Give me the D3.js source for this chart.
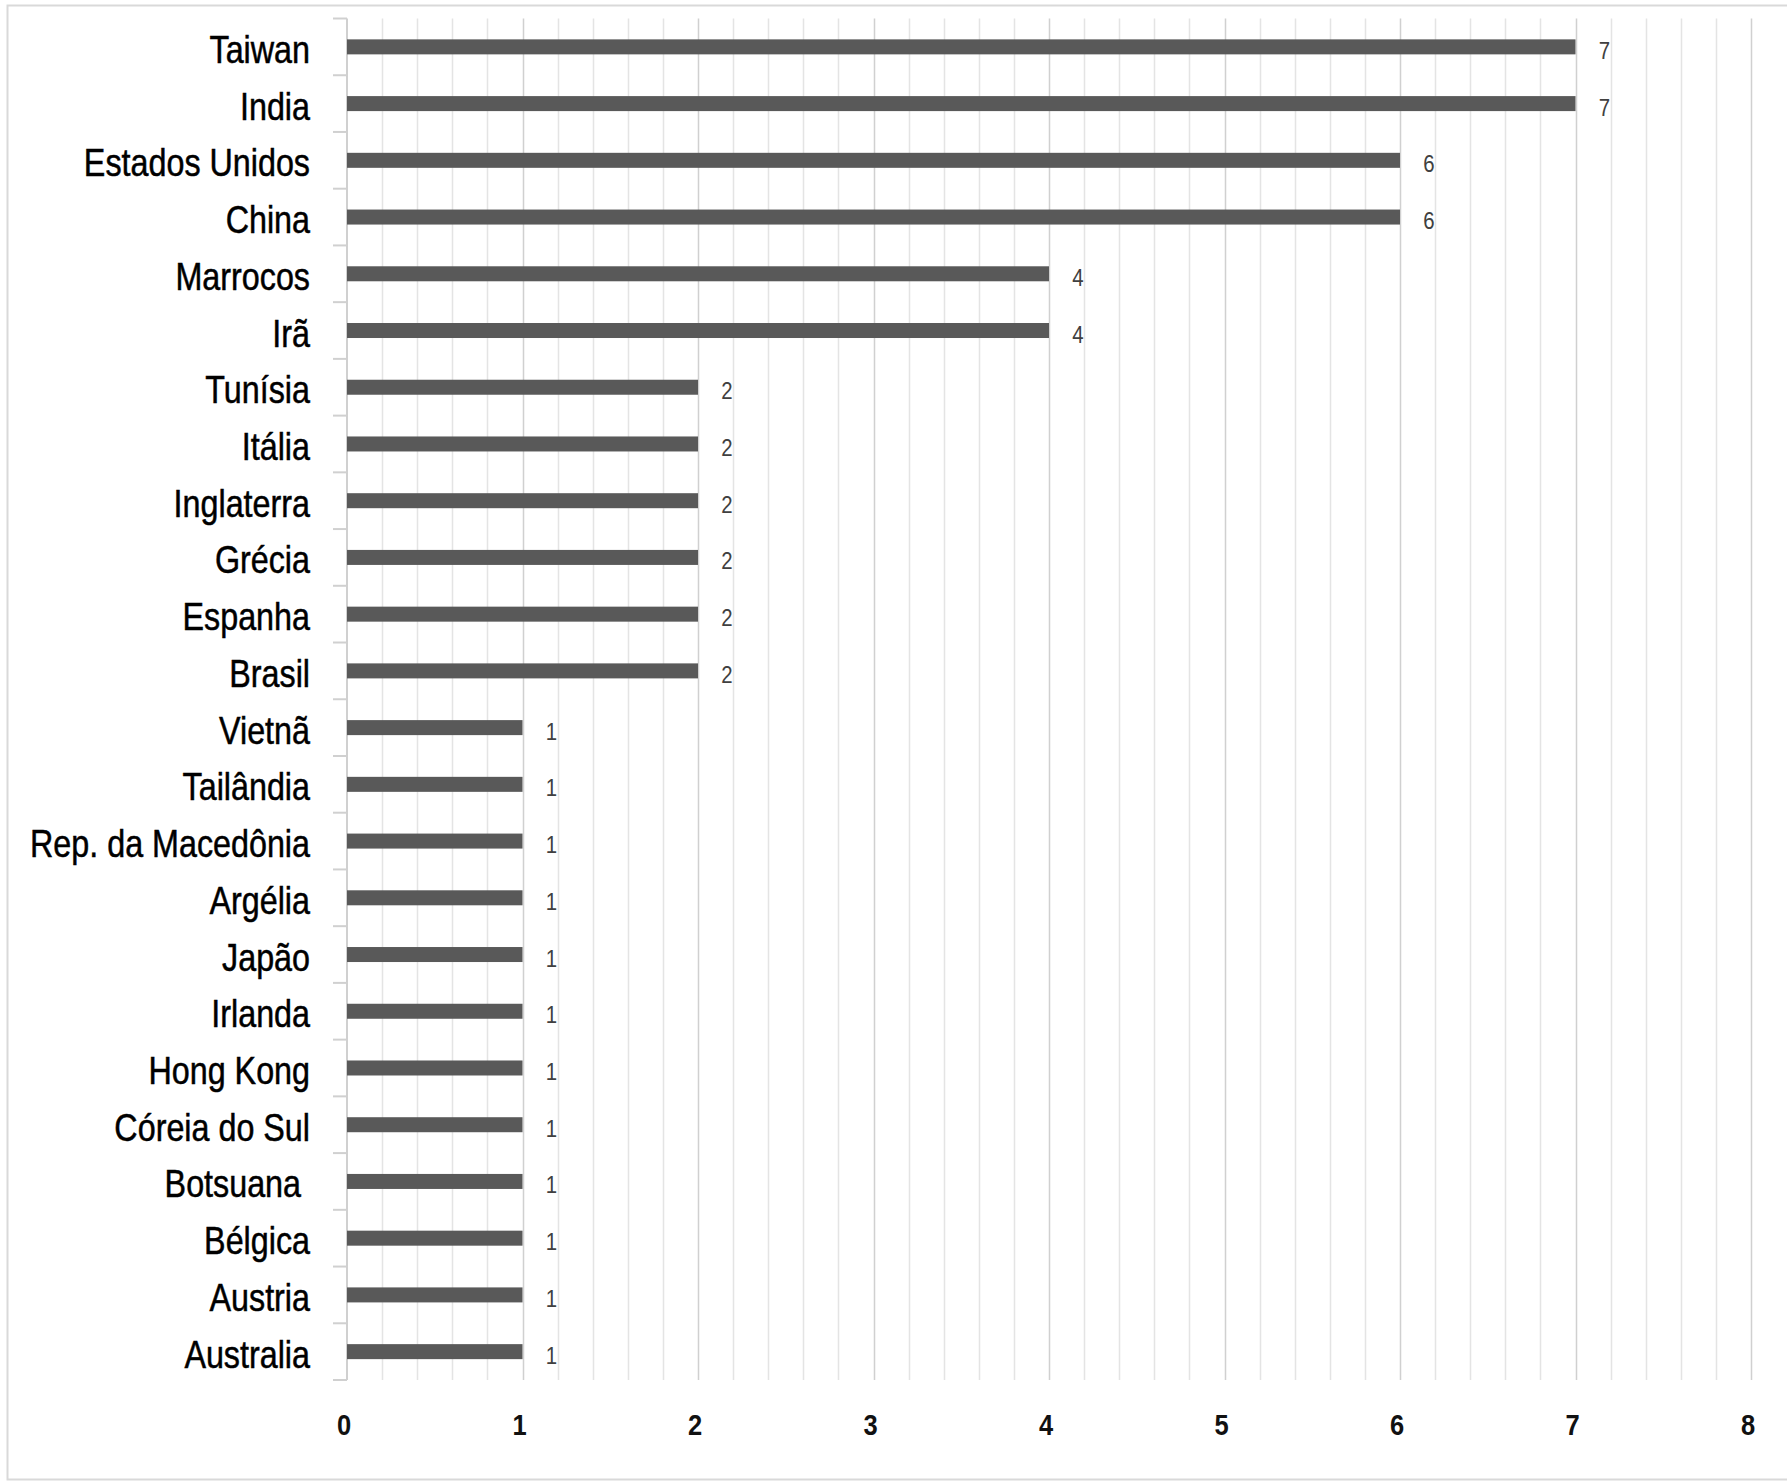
<!DOCTYPE html>
<html>
<head>
<meta charset="utf-8">
<script src="https://cdn.jsdelivr.net/npm/d3@7"></script>
<style>
  html, body { margin: 0; padding: 0; background: #ffffff; }
  svg { display: block; }
  .cat { font-family: "Liberation Sans", Arial, sans-serif; font-size: 38px; fill: #000; stroke: #000; stroke-width: 0.5px; }
  .val { font-family: "Liberation Sans", Arial, sans-serif; font-size: 24px; fill: #404040; }
  .tick-label { font-family: "Liberation Sans", Arial, sans-serif; font-size: 30px; font-weight: bold; fill: #111; }
</style>
</head>
<body>
<div id="chart"></div>
<script>
// countries, top to bottom
const countries = [
    "Taiwan", "India", "Estados Unidos", "China", "Marrocos", "Irã",
    "Tunísia", "Itália", "Inglaterra", "Grécia", "Espanha", "Brasil",
    "Vietnã", "Tailândia", "Rep. da Macedônia", "Argélia", "Japão", "Irlanda",
    "Hong Kong", "Córeia do Sul", "Botsuana\u00a0", "Bélgica", "Austria", "Australia"
];
const counts = [7, 7, 6, 6, 4, 4, 2, 2, 2, 2, 2, 2, 1, 1, 1, 1, 1, 1, 1, 1, 1, 1, 1, 1];
const xTicks = [0, 1, 2, 3, 4, 5, 6, 7, 8];
const minorStep = 0.2;

const width = 1787, height = 1483;
const margin = { top: 18.5, left: 347, right: 36, bottom: 103 };
const narrow = 0.85; // squeeze to mimic a condensed font

const svg = d3.select("#chart")
    .append("svg")
    .attr("width", width)
    .attr("height", height);

// outer frame
svg.append("rect")
    .attr("x", 7.5).attr("y", 5.5)
    .attr("width", width + 10).attr("height", height - 9)
    .attr("fill", "none")
    .attr("stroke", "#d9d9d9")
    .attr("stroke-width", 2);

const x = d3.scaleLinear()
    .domain([0, 8])
    .range([margin.left, width - margin.right]);

const y = d3.scaleBand()
    .domain(countries)
    .range([margin.top, height - margin.bottom])
    .padding(0);

const yTop = margin.top, yBottom = height - margin.bottom;

// gridlines every 0.2, integers a bit darker
const gridVals = d3.range(1, 41).map(i => +(i * minorStep).toFixed(1));
svg.append("g")
    .selectAll("line")
    .data(gridVals)
    .enter().append("line")
    .attr("x1", d => Math.round(x(d)) + 0.5)
    .attr("x2", d => Math.round(x(d)) + 0.5)
    .attr("y1", yTop)
    .attr("y2", yBottom)
    .attr("stroke", d => Number.isInteger(d) ? "#d0d0d0" : "#e4e4e4")
    .attr("stroke-width", 1.5);

// category axis line + ticks
svg.append("line")
    .attr("x1", x(0)).attr("x2", x(0))
    .attr("y1", yTop).attr("y2", yBottom)
    .attr("stroke", "#d0d0d0").attr("stroke-width", 2);

const bounds = countries.map(c => y(c)).concat([yBottom]);
svg.append("g")
    .selectAll("line")
    .data(bounds)
    .enter().append("line")
    .attr("x1", x(0) - 14).attr("x2", x(0))
    .attr("y1", d => d).attr("y2", d => d)
    .attr("stroke", "#d0d0d0").attr("stroke-width", 2);

// bars
const barH = 15;
svg.append("g")
    .selectAll("rect")
    .data(countries)
    .enter().append("rect")
    .attr("x", x(0))
    .attr("y", d => y(d) + y.bandwidth() / 2 - barH / 2)
    .attr("width", (d, i) => x(counts[i]) - x(0))
    .attr("height", barH)
    .attr("fill", "#595959");

// value labels
svg.append("g")
    .selectAll("text")
    .data(countries)
    .enter().append("text")
    .attr("class", "val")
    .attr("transform", (d, i) => `translate(${x(counts[i]) + 29},${y(d) + y.bandwidth() / 2 + 12}) scale(${narrow},1)`)
    .attr("text-anchor", "middle")
    .text((d, i) => counts[i]);

// category labels
svg.append("g")
    .selectAll("text")
    .data(countries)
    .enter().append("text")
    .attr("class", "cat")
    .attr("transform", d => `translate(310,${y(d) + y.bandwidth() / 2 + 16}) scale(${narrow},1)`)
    .attr("text-anchor", "end")
    .text(d => d);

// x tick labels
svg.append("g")
    .selectAll("text")
    .data(xTicks)
    .enter().append("text")
    .attr("class", "tick-label")
    .attr("transform", d => `translate(${x(d) - 3},1435) scale(${narrow},1)`)
    .attr("text-anchor", "middle")
    .text(d => d);
</script>
</body>
</html>
